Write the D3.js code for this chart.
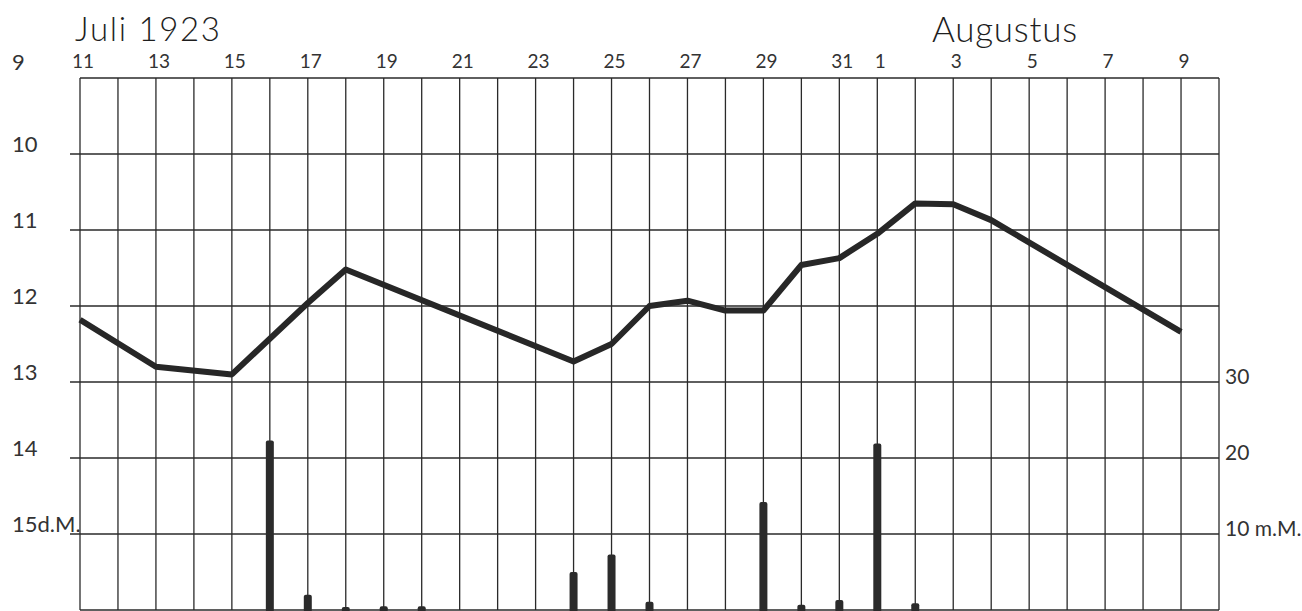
<!DOCTYPE html>
<html><head><meta charset="utf-8">
<script src="https://cdn.jsdelivr.net/npm/d3@7"></script>
<style>body{margin:0;background:#fff}svg{display:block}text{-webkit-font-smoothing:antialiased}</style>
</head><body><svg id="c" width="1302" height="611"></svg>
<script>
// ---- data ----
const levelDates = ["1923-07-11","1923-07-13","1923-07-15","1923-07-17","1923-07-18","1923-07-24","1923-07-25","1923-07-26","1923-07-27","1923-07-28","1923-07-29","1923-07-30","1923-07-31","1923-08-01","1923-08-02","1923-08-03","1923-08-04","1923-08-09"];
const levelValues = [12.18, 12.8, 12.9, 11.96, 11.52, 12.73, 12.5, 12.0, 11.93, 12.06, 12.06, 11.46, 11.37, 11.05, 10.65, 10.66, 10.87, 12.34];
const rainDates = ["1923-07-16","1923-07-17","1923-07-18","1923-07-19","1923-07-20","1923-07-24","1923-07-25","1923-07-26","1923-07-29","1923-07-30","1923-07-31","1923-08-01","1923-08-02"];
const rainValues = [22.3, 2.0, 0.4, 0.5, 0.5, 5.0, 7.3, 1.1, 14.2, 0.7, 1.3, 21.9, 0.9];
const dayTickDates = ["1923-07-11","1923-07-13","1923-07-15","1923-07-17","1923-07-19","1923-07-21","1923-07-23","1923-07-25","1923-07-27","1923-07-29","1923-07-31","1923-08-01","1923-08-03","1923-08-05","1923-08-07","1923-08-09"];
const levelTicks = [9, 10, 11, 12, 13, 14, 15];
const levelTickLabels = ["9", "10", "11", "12", "13", "14", "15d.M."];
const rainTicks = [10, 20, 30];
const rainTickLabels = ["10 m.M.", "20", "30"];
const monthLabels = ["Juli 1923", "Augustus"];

// ---- layout ----
const svg = d3.select("#c");
const ink = "#2a2a2a";
const txt = "#333";
const font = "Lato, 'Open Sans', sans-serif";
const parse = d3.utcParse("%Y-%m-%d");
const x = d3.scaleUtc().domain([parse("1923-07-11"), parse("1923-08-10")]).range([80, 1219]);
const y = d3.scaleLinear().domain([9, 16]).range([78, 610]);
const yr = d3.scaleLinear().domain([0, 70]).range([610, 78]);

const g = svg.append("g");

// vertical day lines
const days = d3.utcDay.range(parse("1923-07-11"), d3.utcDay.offset(parse("1923-08-10"), 1));
g.selectAll("line.v").data(days).join("line")
  .attr("x1", d => x(d)).attr("x2", d => x(d))
  .attr("y1", y(9)).attr("y2", y(16))
  .attr("stroke", ink).attr("stroke-width", 1.3);

// horizontal lines
const hvals = d3.range(9, 17);
g.selectAll("line.h").data(hvals).join("line")
  .attr("x1", d => (d === 9 || d === 16) ? x.range()[0] : 70)
  .attr("x2", x.range()[1])
  .attr("y1", d => y(d)).attr("y2", d => y(d))
  .attr("stroke", ink).attr("stroke-width", 1.3);

// left labels
g.selectAll("text.l").data(levelTicks).join("text")
  .attr("x", 12).attr("y", (d) => y(d) - (d === 9 ? 8 : 2))
  .attr("font-family", font).attr("font-size", 22).attr("fill", txt)
  .text((d, i) => levelTickLabels[i]);

// right labels
g.selectAll("text.r").data(rainTicks).join("text")
  .attr("x", 1225).attr("y", d => yr(d) + 2)
  .attr("font-family", font).attr("font-size", 21).attr("fill", txt)
  .text((d, i) => rainTickLabels[i]);

// day labels
g.selectAll("text.d").data(dayTickDates.map(parse)).join("text")
  .attr("x", d => x(d) + 3).attr("y", 68)
  .attr("text-anchor", "middle")
  .attr("font-family", font).attr("font-size", 19).attr("fill", txt)
  .text(d => d.getUTCDate());

// month labels
g.append("text").attr("x", 75).attr("y", 41)
  .attr("font-family", font).attr("font-size", 33).attr("font-weight", 300).attr("fill", "#1e1e1e")
  .attr("textLength", 145)
  .text(monthLabels[0]);
g.append("text").attr("x", 932).attr("y", 42)
  .attr("font-family", font).attr("font-size", 35).attr("font-weight", 300).attr("fill", "#1e1e1e")
  .attr("textLength", 145)
  .text(monthLabels[1]);

// rain bars
const bw = 8;
g.selectAll("rect.rain").data(rainDates.map((d, i) => ({d: parse(d), v: rainValues[i]}))).join("rect")
  .attr("x", d => x(d.d) - bw / 2).attr("width", bw)
  .attr("y", d => yr(d.v)).attr("height", d => yr(0) - yr(d.v) + 2)
  .attr("rx", 2)
  .attr("fill", "#2b2b2b");

// level line
const line = d3.line().x(d => x(d.d)).y(d => y(d.v));
g.append("path")
  .datum(levelDates.map((d, i) => ({d: parse(d), v: levelValues[i]})))
  .attr("d", line)
  .attr("fill", "none").attr("stroke", "#272727").attr("stroke-width", 6)
  .attr("stroke-linejoin", "round").attr("stroke-linecap", "butt");
</script></body></html>
